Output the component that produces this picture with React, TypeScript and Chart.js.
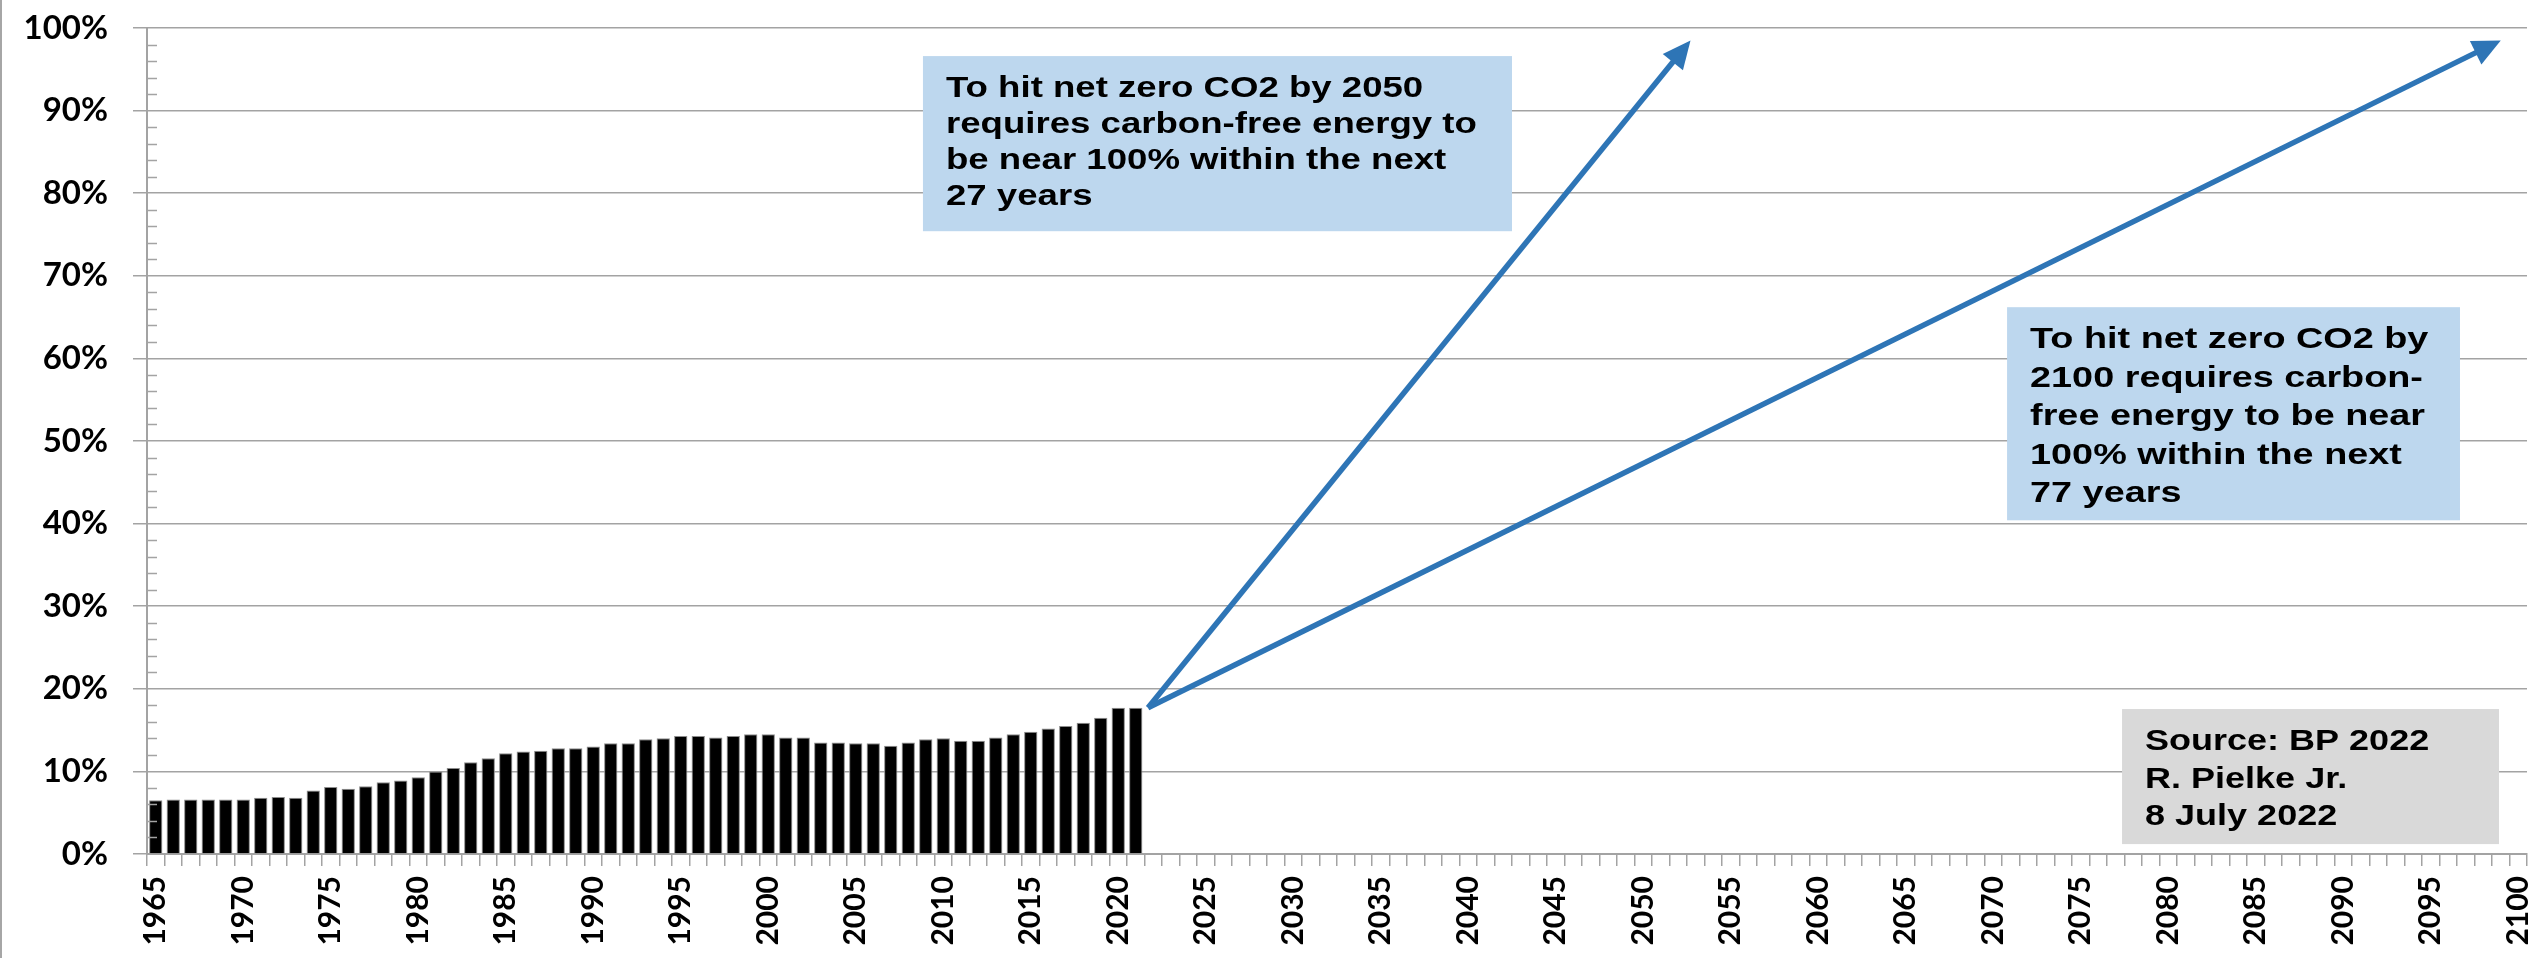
import React, { useEffect, useRef } from 'react';
import { Chart, registerables } from 'chart.js';

Chart.register(...registerables);

// ---------- DATA ----------
const firstYear = 1965;
const lastYear = 2100;
const years: string[] = [];
for (let yr = firstYear; yr <= lastYear; yr++) years.push(String(yr));

// Carbon-free share of primary energy (%), 1965–2021
const carbonFreeShare: number[] = [
  6.5, 6.6, 6.6, 6.6, 6.6, 6.6, 6.8, 6.9, 6.8, 7.7,
  8.1, 7.9, 8.2, 8.7, 8.9, 9.3, 10.0, 10.4, 11.1, 11.6,
  12.2, 12.4, 12.5, 12.8, 12.8, 13.0, 13.4, 13.4, 13.9, 14.0,
  14.3, 14.3, 14.1, 14.3, 14.5, 14.5, 14.1, 14.1, 13.5, 13.5,
  13.4, 13.4, 13.1, 13.5, 13.9, 14.0, 13.7, 13.7, 14.1, 14.5,
  14.8, 15.2, 15.5, 15.9, 16.5, 17.7, 17.7,
];

const yTickValues: number[] = [0, 10, 20, 30, 40, 50, 60, 70, 80, 90, 100];
const yMinorStep = 2;
const xLabelEvery = 5;

// Arrows: origin (year, %) and targets (year, %)
const arrowOriginYear = 2021.7;
const arrowOriginValue = 17.7;
const arrowTargetYears: number[] = [2052.7, 2099];
const arrowTargetValues: number[] = [98.5, 98.5];

const box2050Lines: string[] = [
  'To hit net zero CO2 by 2050',
  'requires carbon-free energy to',
  'be near 100% within the next',
  '27 years',
];
const box2100Lines: string[] = [
  'To hit net zero CO2 by',
  '2100 requires carbon-',
  'free energy to be near',
  '100% within the next',
  '77 years',
];
const sourceLines: string[] = ['Source: BP 2022', 'R. Pielke Jr.', '8 July 2022'];

// Annotation boxes anchored in data space: [yearLeft, yearRight, valueTop, valueBottom]
const annotations = [
  { lines: box2050Lines, box: [2008.84, 2042.5, 96.6, 75.4], fill: '#BDD7EE', lineGap: 36, sx: 1.22 },
  { lines: box2100Lines, box: [2070.79, 2096.67, 66.2, 40.4], fill: '#BDD7EE', lineGap: 38.5, sx: 1.26 },
  { lines: sourceLines, box: [2077.36, 2098.9, 17.55, 1.2], fill: '#D9D9D9', lineGap: 37.5, sx: 1.2 },
];

const GRID = '#a3a3a3';
const ARROW = '#2E75B6';

const overlayPlugin = {
  id: 'overlay',
  beforeDraw(chart: any) {
    const { ctx, height } = chart;
    ctx.save();
    ctx.fillStyle = '#ffffff';
    ctx.fillRect(0, 0, chart.width, height);
    ctx.fillStyle = '#a6a6a6';
    ctx.fillRect(0, 0, 2, height);
    ctx.restore();
  },
  afterDraw(chart: any) {
    const { ctx, chartArea } = chart;
    const x = chart.scales.x;
    const y = chart.scales.y;
    const px = (year: number) => x.getPixelForValue(year - firstYear);

    // minor ticks on y axis (inside plot)
    ctx.save();
    ctx.strokeStyle = GRID;
    ctx.lineWidth = 1.5;
    for (let v = y.min; v <= y.max; v += yMinorStep) {
      if (v % 10 === 0) continue;
      const py = Math.round(y.getPixelForValue(v)) + 0.5;
      ctx.beginPath();
      ctx.moveTo(chartArea.left, py);
      ctx.lineTo(chartArea.left + 10, py);
      ctx.stroke();
    }
    ctx.restore();

    // arrows
    const ox = px(arrowOriginYear);
    const oy = y.getPixelForValue(arrowOriginValue);
    arrowTargetYears.forEach((ty, i) => {
      const tx = px(ty);
      const tyPx = y.getPixelForValue(arrowTargetValues[i]);
      const ang = Math.atan2(tyPx - oy, tx - ox);
      const headLen = 28;
      const headHalf = 13;
      const bx = tx - headLen * Math.cos(ang);
      const by = tyPx - headLen * Math.sin(ang);
      ctx.save();
      ctx.strokeStyle = ARROW;
      ctx.fillStyle = ARROW;
      ctx.lineWidth = 5.5;
      ctx.lineCap = 'butt';
      ctx.beginPath();
      ctx.moveTo(ox, oy);
      ctx.lineTo(bx + 2 * Math.cos(ang), by + 2 * Math.sin(ang));
      ctx.stroke();
      ctx.beginPath();
      ctx.moveTo(tx, tyPx);
      ctx.lineTo(bx + headHalf * Math.sin(ang), by - headHalf * Math.cos(ang));
      ctx.lineTo(bx - headHalf * Math.sin(ang), by + headHalf * Math.cos(ang));
      ctx.closePath();
      ctx.fill();
      ctx.restore();
    });

    // annotation boxes
    annotations.forEach((a) => {
      const [yl, yr, vt, vb] = a.box;
      const l = px(yl);
      const r = px(yr);
      const t = y.getPixelForValue(vt);
      const b = y.getPixelForValue(vb);
      ctx.save();
      ctx.fillStyle = a.fill;
      ctx.fillRect(l, t, r - l, b - t);
      ctx.fillStyle = '#000000';
      ctx.font = 'bold 30px "Liberation Sans", Arial, sans-serif';
      ctx.textBaseline = 'alphabetic';
      ctx.textAlign = 'left';
      a.lines.forEach((line, i) => {
        ctx.save();
        ctx.translate(l + 23, t + 41 + i * a.lineGap);
        ctx.scale(a.sx, 1);
        ctx.fillText(line, 0, 0);
        ctx.restore();
      });
      ctx.restore();
    });
  },
};

export default function App() {
  const canvasRef = useRef<HTMLCanvasElement | null>(null);

  useEffect(() => {
    if (!canvasRef.current) return;
    const chart = new Chart(canvasRef.current, {
      type: 'bar',
      data: {
        labels: years,
        datasets: [
          {
            label: 'Carbon-free share',
            data: carbonFreeShare,
            backgroundColor: '#000000',
            borderColor: '#8c8c8c',
            borderWidth: 1,
            barPercentage: 0.76,
            categoryPercentage: 1,
          },
        ],
      },
      options: {
        animation: false,
        responsive: false,
        devicePixelRatio: 1,
        layout: { padding: { left: 0, top: 28, right: 20, bottom: 0 } },
        plugins: {
          legend: { display: false },
          tooltip: { enabled: false },
          title: { display: false },
        },
        scales: {
          x: {
            type: 'category',
            offset: true,
            afterFit: (s: any) => {
              s.height = 104;
              s.paddingLeft = 0;
              s.paddingRight = 0;
            },
            grid: {
              offset: true,
              drawOnChartArea: false,
              drawTicks: true,
              tickLength: 12,
              color: GRID,
              lineWidth: 1.5,
            },
            border: { display: true, color: GRID, width: 2 },
            ticks: {
              autoSkip: false,
              maxRotation: 90,
              minRotation: 90,
              padding: 10,
              color: '#000000',
              font: { family: 'Lato, "Open Sans", sans-serif', size: 30, weight: 'bold' },
              callback: (_v: any, idx: number) =>
                Number(years[idx]) % xLabelEvery === 0 ? years[idx] : '',
            },
          },
          y: {
            min: yTickValues[0],
            max: yTickValues[yTickValues.length - 1],
            afterFit: (s: any) => {
              s.width = 147;
              s.paddingTop = 0;
              s.paddingBottom = 0;
            },
            afterBuildTicks: (s: any) => {
              s.ticks = yTickValues.map((v) => ({ value: v }));
            },
            grid: {
              color: GRID,
              lineWidth: 1.5,
              drawTicks: true,
              tickLength: 14,
            },
            border: { display: true, color: GRID, width: 2 },
            ticks: {
              padding: 25,
              color: '#000000',
              font: { family: 'Lato, "Open Sans", sans-serif', size: 33, weight: 'bold' },
              callback: (v: any) => `${v}%`,
            },
          },
        },
      },
      plugins: [overlayPlugin],
    } as any);
    return () => chart.destroy();
  }, []);

  return (
    <div style={{ position: 'fixed', left: 0, top: 0, width: 2547, height: 958, background: '#fff' }}>
      <canvas ref={canvasRef} width={2547} height={958} style={{ display: 'block' }} />
    </div>
  );
}
